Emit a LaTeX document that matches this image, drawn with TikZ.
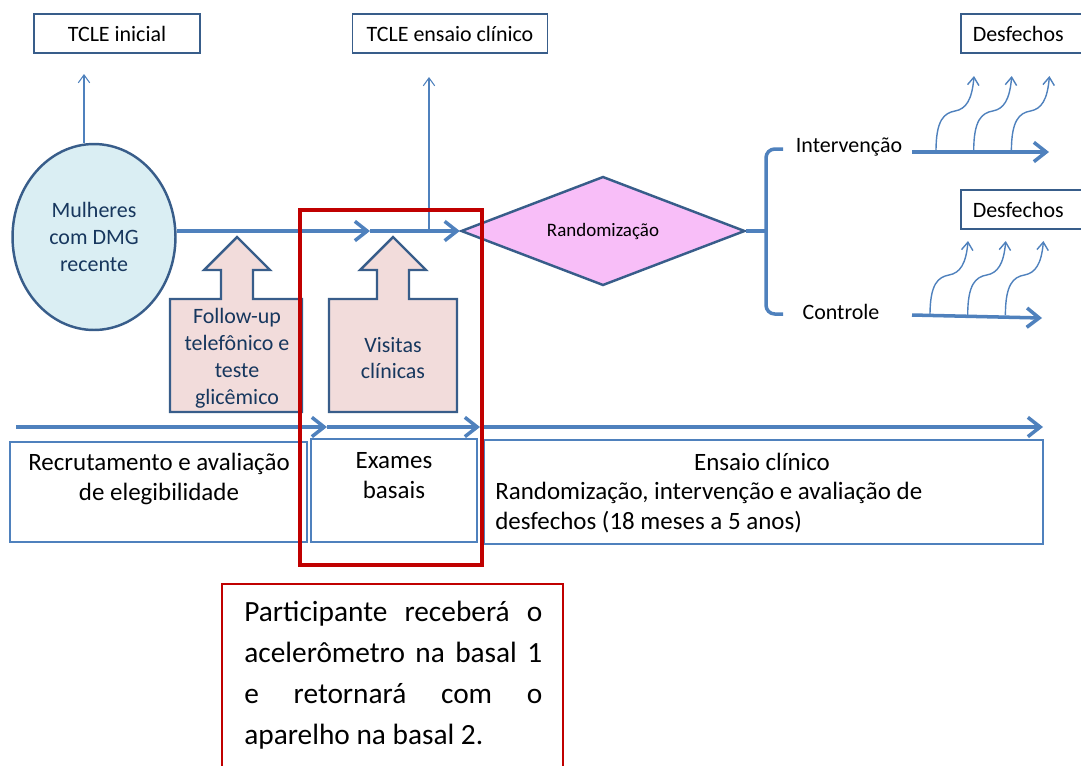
\documentclass[tikz,border=0pt]{standalone}
\usepackage{fontspec}
\setmainfont{Carlito}
\usetikzlibrary{arrows.meta,shapes.geometric}

\definecolor{linha}{HTML}{4F81BD}
\definecolor{borda}{HTML}{385D8A}
\definecolor{marinho}{HTML}{17375E}
\definecolor{elipse}{HTML}{DAEEF3}
\definecolor{rosa}{HTML}{F2DCDB}
\definecolor{lilas}{HTML}{F8BEF8}
\definecolor{vermelho}{HTML}{C00000}

\newcommand{\fonteNormal}{\fontsize{12.5}{15.3}\selectfont}
\newcommand{\fonteEtapa}{\fontsize{14.2}{17}\selectfont}
\newcommand{\fonteLosango}{\fontsize{10.8}{13}\selectfont}
\newcommand{\fonteAviso}{\fontsize{16.7}{23.2}\selectfont}

\begin{document}
\begin{tikzpicture}[x=0.02cm,y=-0.02cm,
    fluxo/.style={draw=linha,line width=2pt,-{Straight Barb[length=7pt,width=11pt]}},
    traco/.style={draw=linha,line width=2pt},
    fino/.style={draw=linha,line width=0.6pt,-{Straight Barb[length=4.5pt,width=6.5pt]}},
    onda/.style={draw=linha,line width=0.8pt,-{Straight Barb[length=4.5pt,width=6.5pt]}},
    caixa/.style={draw=borda,line width=0.85pt,minimum height=0.78cm,font=\fonteNormal},
    etapa/.style={draw=linha,line width=1.1pt,inner sep=0pt},
    bloco/.style={draw=borda,fill=rosa,line width=1.4pt},
    azul/.style={text=marinho,align=center,font=\fonteNormal}]
    \useasboundingbox (0,0) rectangle (1081,765);
    \clip (0,0) rectangle (1081,765);

    % consentimentos e desfechos
    \node[caixa,minimum width=3.32cm] (tcleini) at (117,33.5) {TCLE inicial};
    \node[caixa,minimum width=3.9cm] (tcleens) at (450,33.5) {TCLE ensaio clínico};
    \node[caixa,anchor=west,text width=2.5cm,inner xsep=0.24cm,align=left] (desf1) at (960,33.5) {Desfechos};
    \node[caixa,anchor=west,text width=2.5cm,inner xsep=0.24cm,align=left] (desf2) at (960,209.5) {Desfechos};

    \node[ellipse,draw=borda,fill=elipse,line width=1.4pt,minimum width=3.26cm,minimum height=3.72cm,inner sep=0pt,azul] (mulheres) at (94,237) {Mulheres\\com DMG\\recente};
    \node[diamond,draw=borda,fill=lilas,line width=1.4pt,minimum width=5.68cm,minimum height=2.18cm,aspect=2.6,inner sep=0pt,font=\fonteLosango] (rando) at (603,231) {Randomização};

    \foreach \cx/\l/\r in {237/170/302, 393/329/457}{
        \draw[bloco] (\l,299) -- (\cx-16,299) -- (\cx-16,270) -- (\cx-33,270) -- (\cx,237) -- (\cx+33,270)
            -- (\cx+16,270) -- (\cx+16,299) -- (\r,299) -- (\r,412) -- (\l,412) -- cycle;
    }
    \node[azul] (seguimento) at (237,358) {Follow-up\\telefônico e\\teste\\glicêmico};
    \node[azul] (visitas) at (393,358) {Visitas\\clínicas};

    \coordinate (meio) at (370,231);
    \coordinate (tci) at (84,74);
    \coordinate (tce) at (429,77);
    \draw[fino] (tci |- mulheres.north) -- (tci);
    \draw[fluxo] (rando.west -| mulheres.east) -- (meio);
    \draw[fluxo] (meio) -- (rando.west);
    \draw[fino] (tce |- rando.west) -- (tce);

    % grupos
    \draw[traco] (rando.east) -- (766,231);
    \draw[traco,rounded corners=5pt] (783,149) -- (766,149) -- (766,314) -- (783,314);
    \node[font=\fonteNormal] (interv) at (849,147) {Intervenção};
    \node[font=\fonteNormal] (contr) at (841,312) {Controle};
    \coordinate (i0) at (912,152);
    \coordinate (i1) at (1049,152);
    \coordinate (c0) at (912,315);
    \coordinate (c1) at (1042,318);
    \draw[fluxo] (i0) -- (i1);
    \draw[fluxo] (c0) -- (c1);
    \foreach \i in {0,1,2}{
        \draw[onda] (936+37.7*\i,151) .. controls (936+37.7*\i,120) and (944+37.7*\i,113) .. (955+37.7*\i,111)
            .. controls (966+37.7*\i,109) and (972+37.7*\i,100) .. (974+37.7*\i,76);
        \draw[onda] (930+37.7*\i,315) .. controls (930+37.7*\i,284) and (938+37.7*\i,277) .. (949+37.7*\i,275)
            .. controls (960+37.7*\i,273) and (966+37.7*\i,264) .. (968+37.7*\i,241);
    }

    % linha do tempo
    \coordinate (t0) at (16,427);
    \coordinate (t1) at (327,427);
    \coordinate (t2) at (480,427);
    \coordinate (t3) at (1043,427);
    \draw[fluxo] (t0) -- (t1);
    \draw[fluxo] (t1) -- (t2);
    \draw[fluxo] (t2) -- (t3);

    \node[etapa,minimum width=5.94cm,minimum height=2cm] (recrut) at (158.5,492) {};
    \node[font=\fonteEtapa,align=center] (recruttxt) at (159,479) {Recrutamento e avaliação\\de elegibilidade};
    \node[etapa,minimum width=3.32cm,minimum height=2.06cm] (exames) at (394,490.5) {};
    \node[font=\fonteEtapa,align=center] (examestxt) at (394,476) {Exames\\basais};
    \node[etapa,minimum width=11.18cm,minimum height=2.08cm] (ensaio) at (763.5,492) {};
    \node[font=\fonteEtapa] (ensaiotit) at (762,462) {Ensaio clínico};
    \node[font=\fonteEtapa,align=left,anchor=west,inner sep=0pt] (ensaiotxt) at (495,507.5) {Randomização, intervenção e avaliação de\\desfechos (18 meses a 5 anos)};

    % destaque basal
    \draw[vermelho,line width=2.8pt] (300,210) rectangle (482,565);
    \draw[vermelho,line width=0.85pt] (222,790) |- (563,584) -- (563,790);
    \node[anchor=north west,inner sep=0pt,align=left,font=\fonteAviso] (aviso) at (244,601)
        {\makebox[5.96cm][s]{Participante receberá o}\\
         \makebox[5.96cm][s]{acelerômetro na basal 1}\\
         \makebox[5.96cm][s]{e retornará com o}\\
         aparelho na basal 2.};
\end{tikzpicture}
\end{document}
